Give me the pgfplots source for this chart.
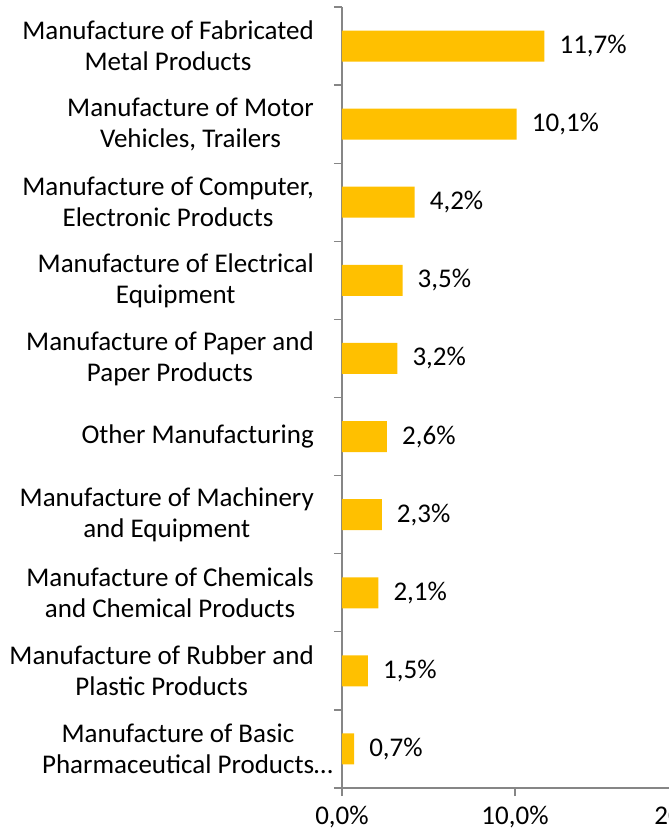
\documentclass[border=0pt]{standalone}
\usepackage{fontspec}
\setmainfont{Carlito}
\usepackage{pgfplots}
\pgfplotsset{compat=1.18}
\definecolor{barc}{HTML}{FFC000}
\definecolor{axc}{HTML}{868686}
\newcommand{\lblfont}{\fontsize{27}{31}\selectfont}
\begin{document}
\begin{tikzpicture}
\begin{axis}[
  at={(0,0)}, anchor=south west,
  scale only axis, width=346pt, height=781pt,
  xbar, bar width=31pt,
  xmin=0, xmax=20, ymin=-0.5, ymax=9.5, y dir=reverse,
  enlargelimits=false,
  axis x line*=bottom, axis y line*=left,
  axis line style={axc, line width=1.2pt, -},
  /pgf/number format/assume math mode=true,
  xtick={0,10,20}, ytick={0,...,9},
  minor ytick={-0.5,0.5,...,9.5},
  major tick length=8pt, minor tick length=8pt,
  tick align=outside,
  every tick/.style={axc, line width=1.2pt},
  major y tick style={draw=none},
  xticklabel={\pgfmathprintnumber[fixed,fixed zerofill,precision=1,use comma]{\tick}\%},
  xticklabel style={font=\lblfont, text=black, inner sep=0pt, yshift=-10pt},
  yticklabels={
    {Manufacture of Fabricated\\Metal Products},
    {Manufacture of Motor\\Vehicles, Trailers},
    {Manufacture of Computer,\\Electronic Products},
    {Manufacture of Electrical\\Equipment},
    {Manufacture of Paper and\\Paper Products},
    {Other Manufacturing},
    {Manufacture of Machinery\\and Equipment},
    {Manufacture of Chemicals\\and Chemical Products},
    {Manufacture of Rubber and\\Plastic Products},
    {Manufacture of Basic\\Pharmaceutical Products…\hspace*{-19pt}}},
  yticklabel style={font=\lblfont, text=black, align=center, anchor=east, inner sep=0pt, xshift=-20pt},
  nodes near coords={\pgfmathprintnumber[fixed,fixed zerofill,precision=1,use comma]{\pgfplotspointmeta}\%},
  nodes near coords style={font=\lblfont, text=black, anchor=west, inner sep=0pt, xshift=15pt},
]
\addplot[fill=barc, draw=none] coordinates {(11.7,0) (10.1,1) (4.2,2) (3.5,3) (3.2,4) (2.6,5) (2.3,6) (2.1,7) (1.5,8) (0.7,9)};
\end{axis}
\pgfresetboundingbox
\useasboundingbox (-342pt,-47pt) rectangle (327pt,788pt);
\end{tikzpicture}
\end{document}
